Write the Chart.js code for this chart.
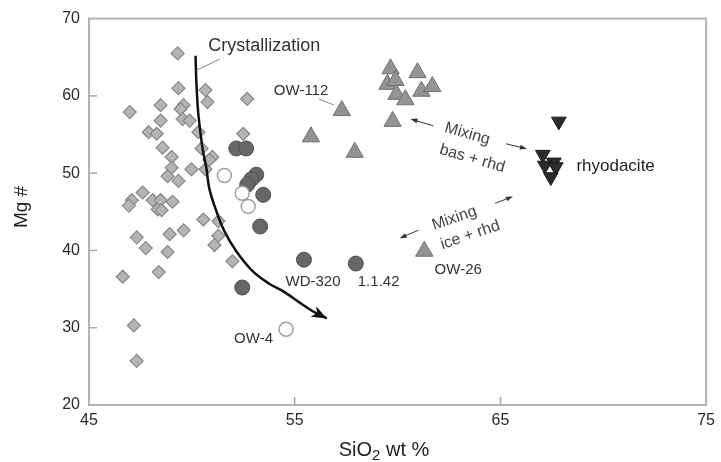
<!DOCTYPE html>
<html><head><meta charset="utf-8">
<script src="https://cdn.jsdelivr.net/npm/chart.js@4.4.0/dist/chart.umd.min.js"></script>
<style>html,body{margin:0;padding:0;background:#fff}#wrap{width:721px;height:462px}</style>
</head><body><div id="wrap"><canvas id="c" width="721" height="462"></canvas></div>
<script>
// ---- data ----
const xTicks = [45, 55, 65, 75];
const yTicks = [20, 30, 40, 50, 60, 70];
const seriesNames = ['diamonds', 'basalt', 'open', 'triangles', 'rhyodacite', 'crystallization'];

const diamondSiO2 = [49.31,49.35,50.66,50.76,52.69,46.98,48.48,49.60,49.45,48.48,49.55,49.89,47.90,48.29,50.32,52.50,48.58,50.47,49.02,51.00,50.85,49.02,49.98,50.66,48.82,49.35,47.61,47.08,46.94,48.10,48.48,49.06,48.34,48.53,50.56,51.29,47.32,48.92,49.60,51.29,51.10,47.76,48.82,51.97,48.39,46.64,47.18,47.32];
const diamondMg = [65.5,61.0,60.75,59.2,59.6,57.9,58.8,58.8,58.3,56.8,57.0,56.8,55.3,55.1,55.3,55.1,53.3,53.2,52.1,52.1,51.7,50.7,50.5,50.5,49.6,49.0,47.5,46.5,45.8,46.5,46.5,46.3,45.3,45.2,44.0,43.8,41.7,42.1,42.6,41.9,40.7,40.3,39.8,38.6,37.2,36.6,30.3,25.7];

const basSiO2 = [52.16,52.64,53.13,52.89,52.69,53.47,53.32,55.45,57.97,52.45];
const basMg = [53.2,53.2,49.8,49.2,48.5,47.2,43.1,38.8,38.3,35.2];

const openSiO2 = [51.58,52.45,52.74,54.58];
const openMg = [49.7,47.4,45.7,29.8];

const triSiO2 = [59.66,59.51,59.90,59.95,60.38,60.97,61.16,61.69,59.76,57.29,55.79,57.92,61.30];
const triMg = [63.5,61.5,62.0,60.2,59.5,63.0,60.6,61.2,56.7,58.1,54.7,52.7,39.9];

const rhdSiO2 = [67.84,67.06,67.60,67.16,67.69,67.45];
const rhdMg = [56.7,52.4,51.4,51.0,50.8,49.5];

const crystSiO2 = [50.18,50.22,50.32,50.52,50.71,50.85,51.19,51.58,52.16,52.93,53.76,54.39,55.84,56.56];
const crystMg = [65.2,61.8,57.5,53.2,50.6,48.0,45.1,42.5,39.9,37.4,35.7,34.8,32.2,31.2];

const pts = (xs, ys) => xs.map((x, i) => ({x, y: ys[i]}));

// ---- annotations (data coordinates) ----
const labels = [
  {t:'Crystallization', x:53.52, y:66.4, size:18, color:'#333'},
  {t:'OW-112', x:55.31, y:60.6, size:15, color:'#333'},
  {t:'WD-320', x:55.89, y:35.94, size:15, color:'#333'},
  {t:'1.1.42', x:59.08, y:35.94, size:15, color:'#333'},
  {t:'OW-26', x:62.95, y:37.48, size:15, color:'#333'},
  {t:'OW-4', x:53.0, y:28.6, size:15, color:'#333'},
  {t:'rhyodacite', x:70.6, y:50.9, size:17, color:'#222'},
  {t:'Mixing', x:63.39, y:55.09, size:16, color:'#444', rot:16},
  {t:'bas + rhd', x:63.63, y:51.88, size:16, color:'#444', rot:16},
  {t:'Mixing', x:62.76, y:44.16, size:16, color:'#444', rot:-19},
  {t:'ice + rhd', x:63.53, y:41.98, size:16, color:'#444', rot:-19}
];
const leaders = [
  [50.23,63.32,51.34,64.73],
  [56.18,59.59,56.90,58.82]
];
const arrows = [
  [61.74,56.12,60.63,57.02],
  [65.27,53.80,66.29,53.16],
  [64.74,46.09,65.61,46.99],
  [61.02,42.62,60.10,41.59]
];

const FONT = "'Liberation Sans', Arial, sans-serif";

const deco = {
  id: 'deco',
  beforeDatasetsDraw(chart) {
    const {ctx, chartArea: a, scales: {x, y}} = chart;
    ctx.save();
    ctx.strokeStyle = '#b4b4b4';
    ctx.lineWidth = 2;
    ctx.strokeRect(a.left, a.top, a.right - a.left, a.bottom - a.top);
    ctx.lineWidth = 1.5;
    ctx.strokeStyle = '#a8a8a8';
    yTicks.slice(1, -1).forEach(v => {
      const py = y.getPixelForValue(v);
      ctx.beginPath(); ctx.moveTo(a.left, py); ctx.lineTo(a.left + 8, py); ctx.stroke();
    });
    xTicks.slice(1, -1).forEach(v => {
      const px = x.getPixelForValue(v);
      ctx.beginPath(); ctx.moveTo(px, a.bottom); ctx.lineTo(px, a.bottom - 8); ctx.stroke();
    });
    ctx.restore();
  },
  afterDatasetsDraw(chart) {
    const {ctx, scales: {x, y}} = chart;
    ctx.save();
    const n = crystSiO2.length;
    const x1 = x.getPixelForValue(crystSiO2[n-2]), y1 = y.getPixelForValue(crystMg[n-2]);
    const x2 = x.getPixelForValue(crystSiO2[n-1]), y2 = y.getPixelForValue(crystMg[n-1]);
    let ang = Math.atan2(y2 - y1, x2 - x1);
    ctx.fillStyle = '#111';
    ctx.beginPath();
    ctx.moveTo(x2, y2);
    ctx.lineTo(x2 - 15*Math.cos(ang) + 6*Math.sin(ang), y2 - 15*Math.sin(ang) - 6*Math.cos(ang));
    ctx.lineTo(x2 - 11*Math.cos(ang), y2 - 11*Math.sin(ang));
    ctx.lineTo(x2 - 15*Math.cos(ang) - 6*Math.sin(ang), y2 - 15*Math.sin(ang) + 6*Math.cos(ang));
    ctx.closePath(); ctx.fill();
    ctx.strokeStyle = '#888'; ctx.lineWidth = 1;
    leaders.forEach(l => {
      ctx.beginPath();
      ctx.moveTo(x.getPixelForValue(l[0]), y.getPixelForValue(l[1]));
      ctx.lineTo(x.getPixelForValue(l[2]), y.getPixelForValue(l[3]));
      ctx.stroke();
    });
    ctx.strokeStyle = '#333'; ctx.fillStyle = '#333'; ctx.lineWidth = 1;
    arrows.forEach(l => {
      const ax = x.getPixelForValue(l[0]), ay = y.getPixelForValue(l[1]);
      const bx = x.getPixelForValue(l[2]), by = y.getPixelForValue(l[3]);
      const t = Math.atan2(by - ay, bx - ax);
      ctx.beginPath(); ctx.moveTo(ax, ay); ctx.lineTo(bx - 4*Math.cos(t), by - 4*Math.sin(t)); ctx.stroke();
      ctx.beginPath();
      ctx.moveTo(bx, by);
      ctx.lineTo(bx - 7*Math.cos(t) + 2.5*Math.sin(t), by - 7*Math.sin(t) - 2.5*Math.cos(t));
      ctx.lineTo(bx - 7*Math.cos(t) - 2.5*Math.sin(t), by - 7*Math.sin(t) + 2.5*Math.cos(t));
      ctx.closePath(); ctx.fill();
    });
    labels.forEach(l => {
      ctx.save();
      ctx.translate(x.getPixelForValue(l.x), y.getPixelForValue(l.y));
      if (l.rot) ctx.rotate(l.rot * Math.PI / 180);
      ctx.font = l.size + 'px ' + FONT;
      ctx.fillStyle = l.color;
      ctx.textAlign = 'center'; ctx.textBaseline = 'middle';
      ctx.fillText(l.t, 0, 0);
      ctx.restore();
    });
    ctx.fillStyle = '#222';
    ctx.save();
    ctx.translate(22, 207); ctx.rotate(-Math.PI/2);
    ctx.font = '19px ' + FONT; ctx.textAlign = 'center'; ctx.textBaseline = 'middle';
    ctx.fillText('Mg #', 0, 0);
    ctx.restore();
    ctx.font = '20px ' + FONT; ctx.textBaseline = 'alphabetic'; ctx.textAlign = 'left';
    const p1 = 'SiO', p2 = '2', p3 = ' wt %';
    const w1 = ctx.measureText(p1).width, w3 = ctx.measureText(p3).width;
    ctx.font = '15px ' + FONT; const w2 = ctx.measureText(p2).width;
    let sx = 384 - (w1 + w2 + w3) / 2, by0 = 456;
    ctx.font = '20px ' + FONT; ctx.fillText(p1, sx, by0);
    ctx.font = '15px ' + FONT; ctx.fillText(p2, sx + w1, by0 + 4);
    ctx.font = '20px ' + FONT; ctx.fillText(p3, sx + w1 + w2, by0);
    ctx.restore();
  }
};

new Chart(document.getElementById('c'), {
  type: 'scatter',
  data: {
    datasets: [
      {label: seriesNames[4], data: pts(rhdSiO2, rhdMg), pointStyle: 'triangle', rotation: 180, pointRadius: 8.5,
       backgroundColor: '#2b2b2b', borderColor: '#1e1e1e', borderWidth: 1},
      {label: seriesNames[3], data: pts(triSiO2, triMg), pointStyle: 'triangle', pointRadius: 10,
       backgroundColor: '#939393', borderColor: '#707070', borderWidth: 1},
      {label: seriesNames[2], data: pts(openSiO2, openMg), pointStyle: 'circle', pointRadius: 7,
       backgroundColor: '#fff', borderColor: '#a0a0a0', borderWidth: 1.5},
      {label: seriesNames[1], data: pts(basSiO2, basMg), pointStyle: 'circle', pointRadius: 7.5,
       backgroundColor: '#676767', borderColor: '#505050', borderWidth: 1},
      {label: seriesNames[5], type: 'line', data: pts(crystSiO2, crystMg), showLine: true, pointRadius: 0,
       borderColor: '#111', borderWidth: 2.5, tension: 0.4, fill: false},
      {label: seriesNames[0], data: pts(diamondSiO2, diamondMg), pointStyle: 'rectRot', pointRadius: 6.5,
       backgroundColor: '#b4b4b4', borderColor: '#888', borderWidth: 1.2}
    ]
  },
  options: {
    responsive: false, animation: false, devicePixelRatio: 1,
    layout: {padding: {top: 16, right: 11, left: 0, bottom: 0}},
    plugins: {legend: {display: false}, tooltip: {enabled: false}},
    scales: {
      x: {type: 'linear', min: 45, max: 75, afterFit: s => { s.height = 57; },
          afterBuildTicks: s => { s.ticks = xTicks.map(v => ({value: v})); },
          grid: {display: false, drawTicks: false}, border: {display: false},
          ticks: {font: {family: FONT, size: 16}, color: '#2a2a2a', padding: 6, maxRotation: 0}},
      y: {type: 'linear', min: 20, max: 70, afterFit: s => { s.width = 89; },
          afterBuildTicks: s => { s.ticks = yTicks.map(v => ({value: v})); },
          grid: {display: false, drawTicks: false}, border: {display: false},
          ticks: {font: {family: FONT, size: 16}, color: '#2a2a2a', padding: 9}}
    }
  },
  plugins: [deco]
});
</script>
</body></html>
